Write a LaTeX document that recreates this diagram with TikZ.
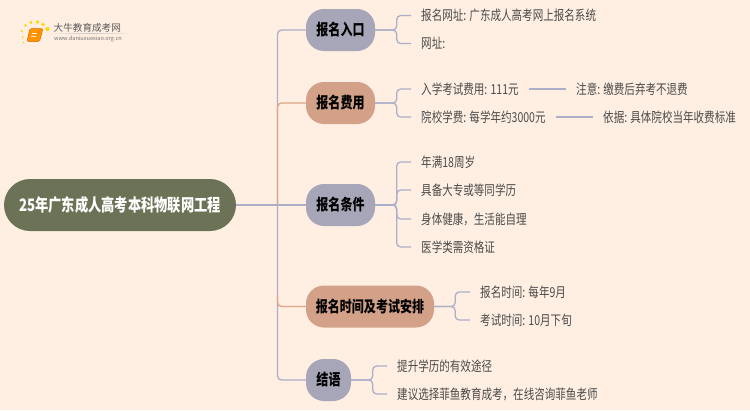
\documentclass[tikz,border=0pt]{standalone}
\usepackage{fontspec}
\setmainfont[FakeStretch=0.77]{Noto Sans CJK SC}
\newfontfamily\logof{Noto Sans CJK SC}
\usetikzlibrary{shadings}
\definecolor{bgc}{HTML}{FFEFE2}
\definecolor{bluen}{HTML}{A6A6B8}
\definecolor{oran}{HTML}{D2A188}
\definecolor{rootc}{HTML}{6B7256}
\definecolor{lineb}{HTML}{ABAFC8}
\definecolor{lineo}{HTML}{DDA588}
\definecolor{txt}{HTML}{4A4A4A}
\tikzset{
  x=1pt,y=-1pt,
  hub/.style={rounded corners=18pt,minimum height=42pt,inner xsep=0pt,inner ysep=0pt,font=\fontsize{15.6}{16}\selectfont\bfseries,text=black,anchor=center},
  hubb/.style={hub,fill=bluen},
  hubo/.style={hub,fill=oran},
  leaf/.style={anchor=west,inner xsep=10pt,inner ysep=0pt,font=\fontsize{13.7}{14}\selectfont,text=txt},
  link/.style={draw=lineb,line width=1.3pt,rounded corners=4pt},
  linko/.style={draw=lineo,line width=1.3pt,rounded corners=4pt},
}
\begin{document}
\begin{tikzpicture}
\useasboundingbox[fill=bgc] (0,0) rectangle (750,410);
% logo
\foreach \x/\y/\r in {22.5/37/1,21.8/31/1.2,25.5/25.5/1.4,31/22.5/1.7,37.5/22/1.8,43/24.5/1.9,47.5/29/2.1,23.5/42.5/0.9}
  \fill[yellow!75!orange] (\x,\y) circle (\r);
\draw[draw=orange!85!black,fill=orange!85!yellow,rounded corners=1.5pt,line width=.5pt] (30,28.5) -- (43,28.5) -- (39.5,41.5) -- (27,41.5) -- cycle;
\draw[white!85!orange,line width=.5pt] (32,33) -- (37,33) (31.3,36) -- (36,36);
\node[inner sep=0pt,anchor=west,text=black!65] (logoa) at (53.5,27.5) {\logof\fontsize{9.6}{10}\selectfont 大牛教育成考网};
\node[inner sep=0pt,anchor=west,text=black!55] (logob) at (54,38.8) {\logof\fontsize{5.6}{6}\selectfont www.daniuxuexiao.org.cn};
\shade[left color=bgc,right color=bgc,middle color=black!22] (48,33.2) rectangle (134,33.9);
% hubs
\node[rounded corners=26pt,minimum width=232pt,minimum height=52pt,fill=rootc,inner sep=0pt,text=white,font=\fontsize{17.2}{18}\selectfont\bfseries] (root) at (120,205) {25年广东成人高考本科物联网工程};
\node[hubb,minimum width=69pt] (a) at (340.5,30) {报名入口};
\node[hubo,minimum width=69pt] (b) at (340.5,103) {报名费用};
\node[hubb,minimum width=69pt] (c) at (340.5,205) {报名条件};
\node[hubo,minimum width=128pt] (d) at (370,306.5) {报名时间及考试安排};
\node[hubb,minimum width=45pt] (e) at (328.5,380) {结语};
% trunk
\coordinate (tr) at (277.5,205);
\draw[link] (root.east) -- (c.west);
\draw[link] (tr) |- (a.west);
\draw[link] (tr) |- (e.west);
\draw[linko] (tr) |- (b.west);
\draw[linko] (277.5,295) |- (d.west);
% leaves
\node[leaf] (a1) at (411,15.5) {报名网址: 广东成人高考网上报名系统};
\node[leaf] (a2) at (411,43.5) {网址:};
\node[leaf] (b1) at (411,89) {入学考试费用: 111元};
\node[leaf] (b2) at (411,117) {院校学费: 每学年约3000元};
\node[leaf] (b1n) at (566,89) {注意: 缴费后弃考不退费};
\node[leaf] (b2n) at (593,117) {依据: 具体院校当年收费标准};
\node[leaf] (c1) at (411,162) {年满18周岁};
\node[leaf] (c2) at (411,190) {具备大专或等同学历};
\node[leaf] (c3) at (411,219) {身体健康，生活能自理};
\node[leaf] (c4) at (411,247) {医学类需资格证};
\node[leaf] (d1) at (470,292) {报名时间: 每年9月};
\node[leaf] (d2) at (470,320) {考试时间: 10月下旬};
\node[leaf] (e1) at (387,366) {提升学历的有效途径};
\node[leaf] (e2) at (387,394) {建议选择菲鱼教育成考，在线咨询菲鱼老师};
% brackets
\foreach \h/\l in {a/a1,a/a2,b/b1,b/b2,c/c1,c/c2,c/c3,c/c4}
  \draw[link] (\h.east) -- ++(21.5,0) |- (\l.west);
\foreach \l in {d1,d2} \draw[link] (d.east) -- ++(21,0) |- (\l.west);
\foreach \l in {e1,e2} \draw[link] (e.east) -- ++(21.5,0) |- (\l.west);
\draw[link] (b1.east) -- (b1n.west);
\draw[link] (b2.east) -- (b2n.west);
\end{tikzpicture}
\end{document}
